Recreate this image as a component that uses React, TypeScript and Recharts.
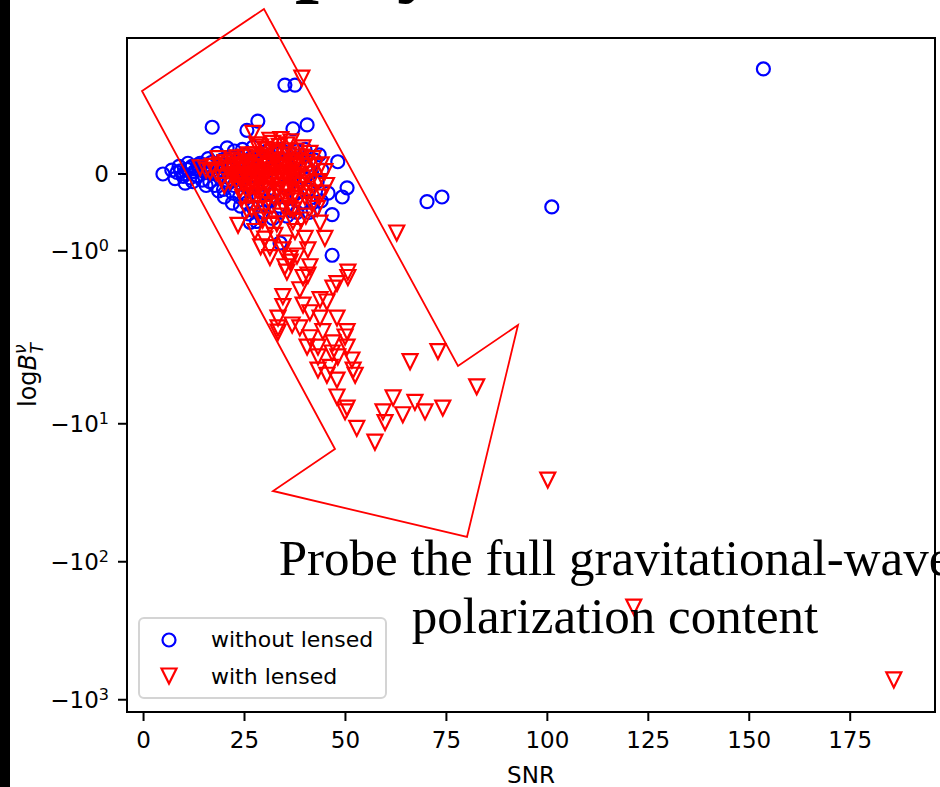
import React from 'react';
import { ScatterChart, Scatter, XAxis, YAxis, Legend, Label, ReferenceArea } from 'recharts';

const FONT = '"DejaVu Sans", Verdana, sans-serif';
const SERIF = '"Liberation Serif", "Times New Roman", serif';
const BLUE = '#0000ff';
const RED = '#ff0000';

// [SNR, log Bayes factor] per event
const withoutLensed: [number, number][] = [
  [153.5, 1.37], [35.0, 1.16], [37.5, 1.16], [17.0, 0.61], [25.6, 0.57], [28.3, 0.69],
  [37.0, 0.59], [40.5, 0.64], [4.8, 0.0], [8.3, 0.02], [10.3, -0.12], [12.0, 0.1],
  [48.1, 0.16], [50.4, -0.18], [49.2, -0.3], [45.7, -0.25], [46.7, -0.53], [46.7, -1.06],
  [70.2, -0.36], [73.9, -0.3], [101.1, -0.43], [42.0, -0.37], [42.0, -0.47], [42.4, 0.18],
  [18.2, 0.27], [20.7, 0.34], [23.7, 0.22], [27.1, 0.35], [33.8, -0.9], [26.4, -0.63],
  [28.0, -0.62],
  [9.2, 0.04], [9.8, -0.03], [10.8, 0.06], [11.5, -0.05], [12.6, 0.03], [13.2, -0.02],
  [13.8, 0.07], [14.5, -0.08], [15.2, 0.02], [15.8, 0.12], [16.4, -0.1], [17.1, 0.05],
  [17.6, -0.15], [18.3, 0.1], [18.9, -0.04], [19.4, 0.18], [19.8, -0.2], [20.3, 0.08],
  [21.0, -0.12], [21.5, 0.22], [22.1, -0.25], [22.6, 0.02], [23.2, 0.14], [23.8, -0.3],
  [24.3, -0.08], [24.9, 0.25], [25.5, -0.38], [26.0, 0.1], [26.6, -0.18], [27.2, -0.45],
  [27.8, 0.16], [28.5, -0.28], [29.0, 0.05], [29.6, -0.5], [30.2, 0.2], [30.8, -0.12],
  [31.3, -0.35], [31.9, 0.1], [32.5, -0.22], [33.1, 0.26], [33.6, -0.42], [34.2, 0.0],
  [34.8, -0.3], [35.4, 0.15], [36.0, -0.15], [36.6, -0.48], [37.2, 0.05], [37.8, -0.25],
  [38.5, 0.2], [39.1, -0.38], [39.7, -0.05], [40.3, 0.1], [40.9, -0.2], [41.6, 0.02],
  [43.0, -0.1], [44.2, 0.05], [20.0, -0.3], [22.0, -0.38], [24.0, -0.42], [26.0, -0.52],
  [30.0, -0.4], [32.0, -0.58], [35.5, -0.55], [38.0, -0.5], [16.0, 0.2], [14.0, 0.14],
  [11.0, 0.14], [24.5, 0.32], [30.5, 0.3], [36.0, 0.28], [40.0, 0.32],
  [7.0, 0.05], [7.8, -0.06], [8.8, 0.1], [10.0, 0.0], [11.8, 0.08], [12.2, -0.1],
  [13.5, 0.12], [14.8, 0.05], [15.5, -0.15], [16.8, 0.15], [17.8, 0.0], [18.6, -0.22],
  [19.6, 0.05], [20.6, -0.08], [21.6, 0.12], [22.4, -0.15], [23.0, -0.02], [25.0, 0.02],
  [26.8, 0.22], [29.4, 0.28], [31.0, 0.2], [34.0, 0.32], [38.0, 0.3], [41.0, -0.5],
  [44.0, -0.35], [43.5, 0.25], [22.5, 0.3],
];

const withLensed: [number, number][] = [
  [100.1, -25.6], [121.4, -213], [185.8, -719], [82.5, -5.4], [72.9, -3.0], [66.0, -3.55],
  [62.7, -0.77], [39.2, 1.25], [27.1, 0.53],
  [31.3, 0.44], [39.5, 0.34], [30.6, 0.31], [33.0, 0.27], [41.2, 0.27], [44.9, 0.03],
  [43.2, -0.1], [44.2, -0.25], [14.0, 0.08], [16.5, 0.03], [23.1, 0.21], [25.1, 0.22],
  [34.5, 0.16], [38.0, 0.18], [39.5, -0.05], [41.2, -0.12], [25.6, -0.47], [28.8, -0.56],
  [31.3, -0.67], [37.0, -0.47],
  [15.5, 0.05], [17.0, 0.1], [18.0, 0.02], [18.8, 0.12], [19.5, -0.05], [20.2, 0.15],
  [20.8, 0.05], [21.4, -0.1], [22.0, 0.18], [22.5, 0.0], [23.5, -0.15], [24.0, 0.1],
  [24.6, -0.05], [25.3, 0.05], [25.8, -0.25], [26.3, 0.15], [26.8, -0.1], [27.3, 0.25],
  [27.8, -0.35], [28.3, 0.0], [28.8, 0.2], [29.3, -0.2], [29.8, 0.1], [30.3, -0.4],
  [30.8, -0.05], [31.8, 0.15], [32.3, -0.3], [32.8, 0.05], [33.5, -0.15], [34.0, -0.55],
  [34.8, 0.0], [35.5, -0.35], [36.0, 0.25], [36.5, -0.1], [37.5, -0.25], [38.5, 0.05],
  [39.0, -0.6], [40.0, -0.3], [40.5, 0.15], [41.8, -0.4], [42.5, 0.1], [43.5, -0.3],
  [45.3, -0.15], [29.0, 0.35], [35.5, 0.38], [26.0, 0.1], [33.0, -0.05], [36.5, 0.1],
  [21.0, 0.08], [21.8, -0.02], [22.8, 0.12], [23.8, -0.05], [24.3, 0.16], [25.0, -0.12],
  [25.6, 0.12], [26.5, -0.02], [27.0, 0.08], [27.5, -0.18], [28.0, 0.14], [28.6, -0.08],
  [29.2, 0.02], [29.6, -0.3], [30.0, 0.22], [30.5, -0.15], [31.0, 0.05], [31.5, -0.22],
  [32.0, 0.28], [32.6, -0.1], [33.2, 0.12], [33.8, -0.3], [34.3, 0.08], [34.8, -0.2],
  [35.2, 0.3], [35.8, -0.05], [36.3, -0.45], [36.8, 0.15], [37.3, -0.12], [37.8, 0.3],
  [38.3, -0.35], [38.8, -0.15], [39.3, 0.22], [40.2, -0.55], [40.8, 0.0], [41.5, -0.25],
  [42.0, 0.2], [43.0, -0.45], [44.0, 0.12], [28.0, 0.38], [32.0, 0.4], [34.0, 0.45],
  [36.5, 0.42], [24.5, -0.3], [26.8, -0.45], [29.5, -0.6], [33.0, -0.65], [37.0, -0.62],
  [20.0, -0.15], [18.5, 0.2],
  [22.2, 0.06], [23.0, -0.08], [24.8, 0.04], [25.9, 0.0], [26.2, -0.15], [27.6, 0.04],
  [28.2, -0.22], [29.0, -0.1], [30.2, -0.02], [30.9, 0.12], [31.7, -0.08], [32.4, 0.18],
  [33.1, -0.2], [33.9, 0.02], [34.5, -0.1], [35.0, 0.1], [35.6, -0.22], [36.2, 0.02],
  [37.0, -0.02], [37.6, 0.12], [38.2, -0.05], [39.0, 0.1], [39.8, -0.2], [27.0, -0.28],
  [29.8, -0.45], [31.8, -0.42], [34.6, -0.42], [36.9, -0.32], [24.0, -0.2], [26.0, 0.25],
  [30.0, 0.32], [33.6, 0.36],
  [23.4, -0.67], [27.6, -0.75], [30.0, -0.85], [32.5, -0.8], [35.0, -0.9], [37.5, -0.75],
  [29.0, -0.95], [31.3, -0.96], [34.5, -0.99], [36.3, -1.15], [35.5, -1.28], [38.0, -1.07],
  [40.0, -0.84], [41.2, -1.21], [39.5, -1.35], [43.7, -0.64], [44.9, -0.84],
  [31.3, -1.09], [35.0, -1.21], [36.3, -1.1], [40.7, -0.99], [40.7, -1.32], [50.6, -1.28],
  [50.6, -1.35], [47.9, -1.43], [46.9, -1.49], [34.5, -1.6], [38.7, -1.51], [34.5, -1.73],
  [39.5, -1.71], [43.7, -1.64], [45.4, -1.67], [41.2, -1.81], [33.3, -1.88], [43.7, -1.88],
  [47.9, -1.88], [36.8, -1.97], [38.7, -2.02], [33.3, -2.02], [33.3, -2.17], [41.2, -2.38],
  [44.4, -2.15], [50.4, -2.15], [49.9, -2.35], [40.5, -2.78], [43.2, -2.78], [46.9, -2.59],
  [50.4, -2.78], [43.2, -3.28], [46.7, -3.07], [48.1, -3.28], [51.6, -3.45], [43.2, -4.08],
  [46.2, -3.9], [51.9, -4.08], [52.4, -4.45], [45.4, -4.45], [47.9, -4.82], [47.9, -6.4],
  [50.4, -7.7], [49.9, -8.2], [52.8, -10.8], [57.3, -13.6], [59.3, -8.2], [61.8, -6.5],
  [59.8, -9.8], [64.2, -8.6], [67.2, -7.0], [69.7, -8.2], [74.1, -7.7],
];

const snrTicks = [0, 25, 50, 75, 100, 125, 150, 175];
const logBTicks = [0, -1, -10, -100, -1000];
const snrDomain: [number, number] = [-4.1, 196];
const logBDomain: [number, number] = [-1227, 1.774];

// symmetric log axis, linthresh 2, linscale 1 (base 10)
const LINTHRESH = 2;
const LINSCALE = 1 / (1 - 1 / 10);
const symlog = (v: number) => {
  const a = Math.abs(v);
  if (a <= LINTHRESH) return v * LINSCALE;
  return Math.sign(v) * LINTHRESH * (LINSCALE + Math.log10(a / LINTHRESH));
};
const symlogInv = (t: number) => {
  const a = Math.abs(t);
  if (a <= LINTHRESH * LINSCALE) return t / LINSCALE;
  return Math.sign(t) * LINTHRESH * Math.pow(10, a / LINTHRESH - LINSCALE);
};

const toPoints = (rows: [number, number][]) =>
  rows.map(([snr, logB]) => ({ snr, logB, y: symlog(logB) }));

const unlensedData = toPoints(withoutLensed);
const lensedData = toPoints(withLensed);
const yDomain: [number, number] = [symlog(logBDomain[0]), symlog(logBDomain[1])];

const MARK = 7.5;

const Ring = ({ cx, cy }: any) => (
  <circle cx={cx} cy={cy} r={MARK - 1} fill="none" stroke={BLUE} strokeWidth={2.2} />
);

const DownTriangle = ({ cx, cy }: any) => (
  <polygon
    points={`${cx - MARK},${cy - MARK} ${cx + MARK},${cy - MARK} ${cx},${cy + MARK}`}
    fill="none"
    stroke={RED}
    strokeWidth={2.2}
  />
);

function LogBTick({ x, y, payload }: any) {
  const v = Math.round(symlogInv(payload.value));
  const common = { x, y, dy: '0.36em', textAnchor: 'end' as const, fill: '#000', fontSize: 23, fontFamily: FONT };
  if (v === 0) return <text {...common}>0</text>;
  const exp = Math.round(Math.log10(Math.abs(v)));
  return (
    <text {...common}>
      {v < 0 ? '\u2212' : ''}10
      <tspan dy="-0.5em" fontSize={16}>{exp}</tspan>
    </text>
  );
}

function YTitle({ viewBox }: any) {
  const cx = 36;
  const cy = viewBox ? viewBox.y + viewBox.height / 2 : 375;
  return (
    <text
      x={cx}
      y={cy}
      transform={`rotate(-90 ${cx} ${cy})`}
      textAnchor="middle"
      fontSize={24}
      fontFamily={FONT}
      fill="#000"
    >
      log<tspan fontStyle="italic">B</tspan>
      <tspan dy={-10} fontSize={17} fontStyle="italic">ν</tspan>
      <tspan dx={-9} dy={17} fontSize={17} fontStyle="italic">T</tspan>
    </text>
  );
}

function LegendBox() {
  return (
    <svg width={249} height={82} style={{ display: 'block' }}>
      <rect x={1} y={1} width={247} height={80} rx={5} fill="rgba(255,255,255,0.8)" stroke="#d4d4d4" strokeWidth={2} />
      <Ring cx={31} cy={23} />
      <text x={73} y={30} fontSize={22} fontFamily={FONT} fill="#000">without lensed</text>
      <DownTriangle cx={31} cy={59} />
      <text x={73} y={67} fontSize={22} fontFamily={FONT} fill="#000">with lensed</text>
    </svg>
  );
}

const axisStroke = { stroke: '#000', strokeWidth: 2 };

export default function App() {
  return (
    <div style={{ position: 'absolute', left: 0, top: 0, width: 940, height: 787, background: '#fff' }}>
      <ScatterChart width={940} height={787} margin={{ top: 38, right: 5, left: 0, bottom: 0 }}>
        <XAxis
          dataKey="snr"
          type="number"
          domain={snrDomain}
          ticks={snrTicks}
          allowDataOverflow
          height={75}
          tickSize={9}
          tickMargin={11}
          axisLine={axisStroke}
          tickLine={axisStroke}
          tick={{ fill: '#000', fontSize: 23, fontFamily: FONT }}
        >
          <Label value="SNR" position="insideBottom" offset={4} fill="#000" fontSize={23} fontFamily={FONT} />
        </XAxis>
        <YAxis
          dataKey="y"
          type="number"
          domain={yDomain}
          ticks={logBTicks.map(symlog)}
          allowDataOverflow
          width={127}
          tickSize={9}
          tickMargin={9}
          axisLine={axisStroke}
          tickLine={axisStroke}
          tick={<LogBTick />}
        >
          <Label content={<YTitle />} />
        </YAxis>
        {/* frame around the plotting area */}
        <ReferenceArea
          x1={snrDomain[0]}
          x2={snrDomain[1]}
          y1={yDomain[0]}
          y2={yDomain[1]}
          fill="none"
          stroke="#000"
          strokeWidth={2}
          ifOverflow="visible"
        />
        <Scatter name="without lensed" data={unlensedData} dataKey="y" shape={Ring} isAnimationActive={false} />
        <Scatter name="with lensed" data={lensedData} dataKey="y" shape={DownTriangle} isAnimationActive={false} />
        <Legend
          layout="vertical"
          align="center"
          verticalAlign="middle"
          wrapperStyle={{ position: 'absolute', left: 138, top: 617, width: 249, height: 82 }}
          content={() => <LegendBox />}
        />
      </ScatterChart>

      {/* slide decorations drawn over the figure */}
      <svg width={940} height={787} style={{ position: 'absolute', left: 0, top: 0, pointerEvents: 'none' }}>
        <rect x={0} y={0} width={10} height={787} fill="#000" />
        <text x={295} y={-15} fontSize={86} fontWeight="bold" fontFamily={SERIF} fill="#000" letterSpacing={3}>physics</text>
        <polygon
          points="264,9 142,91 335,449 273,491 467,537 518,325 458,366"
          fill="none"
          stroke={RED}
          strokeWidth={1.8}
        />
        <text textAnchor="middle" fontSize={51} fontFamily={SERIF} fill="#000">
          <tspan x={615} y={575}>Probe the full gravitational-wave</tspan>
          <tspan x={615} y={633}>polarization content</tspan>
        </text>
      </svg>
    </div>
  );
}
